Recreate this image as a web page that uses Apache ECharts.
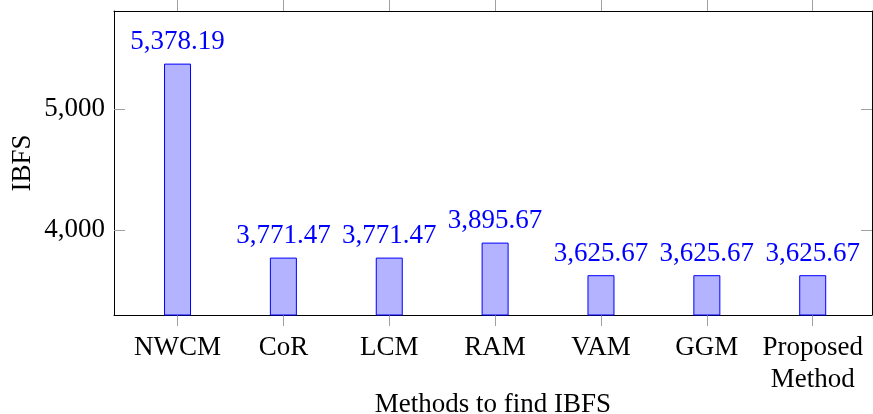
<!DOCTYPE html>
<html>
<head>
<meta charset="utf-8">
<script src="https://cdn.jsdelivr.net/npm/echarts@6/dist/echarts.min.js"></script>
<style>
  html, body { margin: 0; padding: 0; background: #fff; }
  #chart { width: 873px; height: 414px; }
</style>
</head>
<body>
<div id="chart"></div>
<script>
// data
const categories = ['NWCM', 'CoR', 'LCM', 'RAM', 'VAM', 'GGM', 'Proposed\nMethod']
const ibfs = [5378.19, 3771.47, 3771.47, 3895.67, 3625.67, 3625.67, 3625.67]
const yTicks = [4000, 5000]
const catPos = [0, 1, 2, 3, 4, 5, 6]

const font = 'Liberation Serif'
const grey = '#a0a0a0'

const myChart = echarts.init(document.getElementById('chart'))

const xBase = {
  type: 'value',
  min: -0.6,
  max: 6.56,
  splitLine: { show: false },
  axisLine: { show: true, onZero: false, lineStyle: { color: '#000', width: 1 } }
}
const yBase = {
  type: 'value',
  min: 3296,
  max: 5814,
  splitLine: { show: false },
  axisLine: { show: true, onZero: false, lineStyle: { color: '#000', width: 1 } }
}

const option = {
  animation: false,
  grid: { left: 114, right: 1, top: 11, bottom: 99, containLabel: false, outerBoundsMode: 'none' },
  xAxis: [
    Object.assign({}, xBase, {
      position: 'bottom',
      name: 'Methods to find IBFS',
      nameLocation: 'middle',
      nameGap: 76,
      nameMoveOverlap: false,
      nameTextStyle: { fontFamily: font, fontSize: 27, color: '#000' },
      axisTick: { show: true, inside: false, length: 11, customValues: catPos, lineStyle: { color: grey } },
      axisLabel: {
        show: true,
        customValues: catPos,
        margin: 17,
        fontFamily: font,
        fontSize: 27,
        lineHeight: 32,
        color: '#000',
        formatter: v => categories[Math.round(v)]
      }
    }),
    Object.assign({}, xBase, {
      position: 'top',
      axisTick: { show: true, inside: false, length: 11, customValues: catPos, lineStyle: { color: grey } },
      axisLabel: { show: false }
    })
  ],
  yAxis: [
    Object.assign({}, yBase, {
      position: 'left',
      name: 'IBFS',
      nameLocation: 'middle',
      nameGap: 78,
      nameMoveOverlap: false,
      nameTextStyle: { fontFamily: font, fontSize: 27, color: '#000' },
      axisTick: { show: true, inside: true, length: 11, customValues: yTicks, lineStyle: { color: grey } },
      axisLabel: {
        show: true,
        customValues: yTicks,
        margin: 9,
        fontFamily: font,
        fontSize: 27,
        color: '#000',
        formatter: v => v.toLocaleString('en-US')
      }
    }),
    Object.assign({}, yBase, {
      position: 'right',
      axisTick: { show: true, inside: true, length: 11, customValues: yTicks, lineStyle: { color: grey } },
      axisLabel: { show: false }
    })
  ],
  series: [
    {
      type: 'bar',
      xAxisIndex: 0,
      yAxisIndex: 0,
      barWidth: 27,
      data: ibfs.map((v, i) => [catPos[i], v]),
      itemStyle: { color: '#b3b3ff', borderColor: '#0000ff', borderWidth: 1 },
      label: {
        show: true,
        position: 'top',
        distance: 8,
        fontFamily: font,
        fontSize: 27,
        color: '#0000ff',
        formatter: p => p.value[1].toLocaleString('en-US', { minimumFractionDigits: 2, maximumFractionDigits: 2 })
      }
    }
  ]
}
myChart.setOption(option)
</script>
</body>
</html>
